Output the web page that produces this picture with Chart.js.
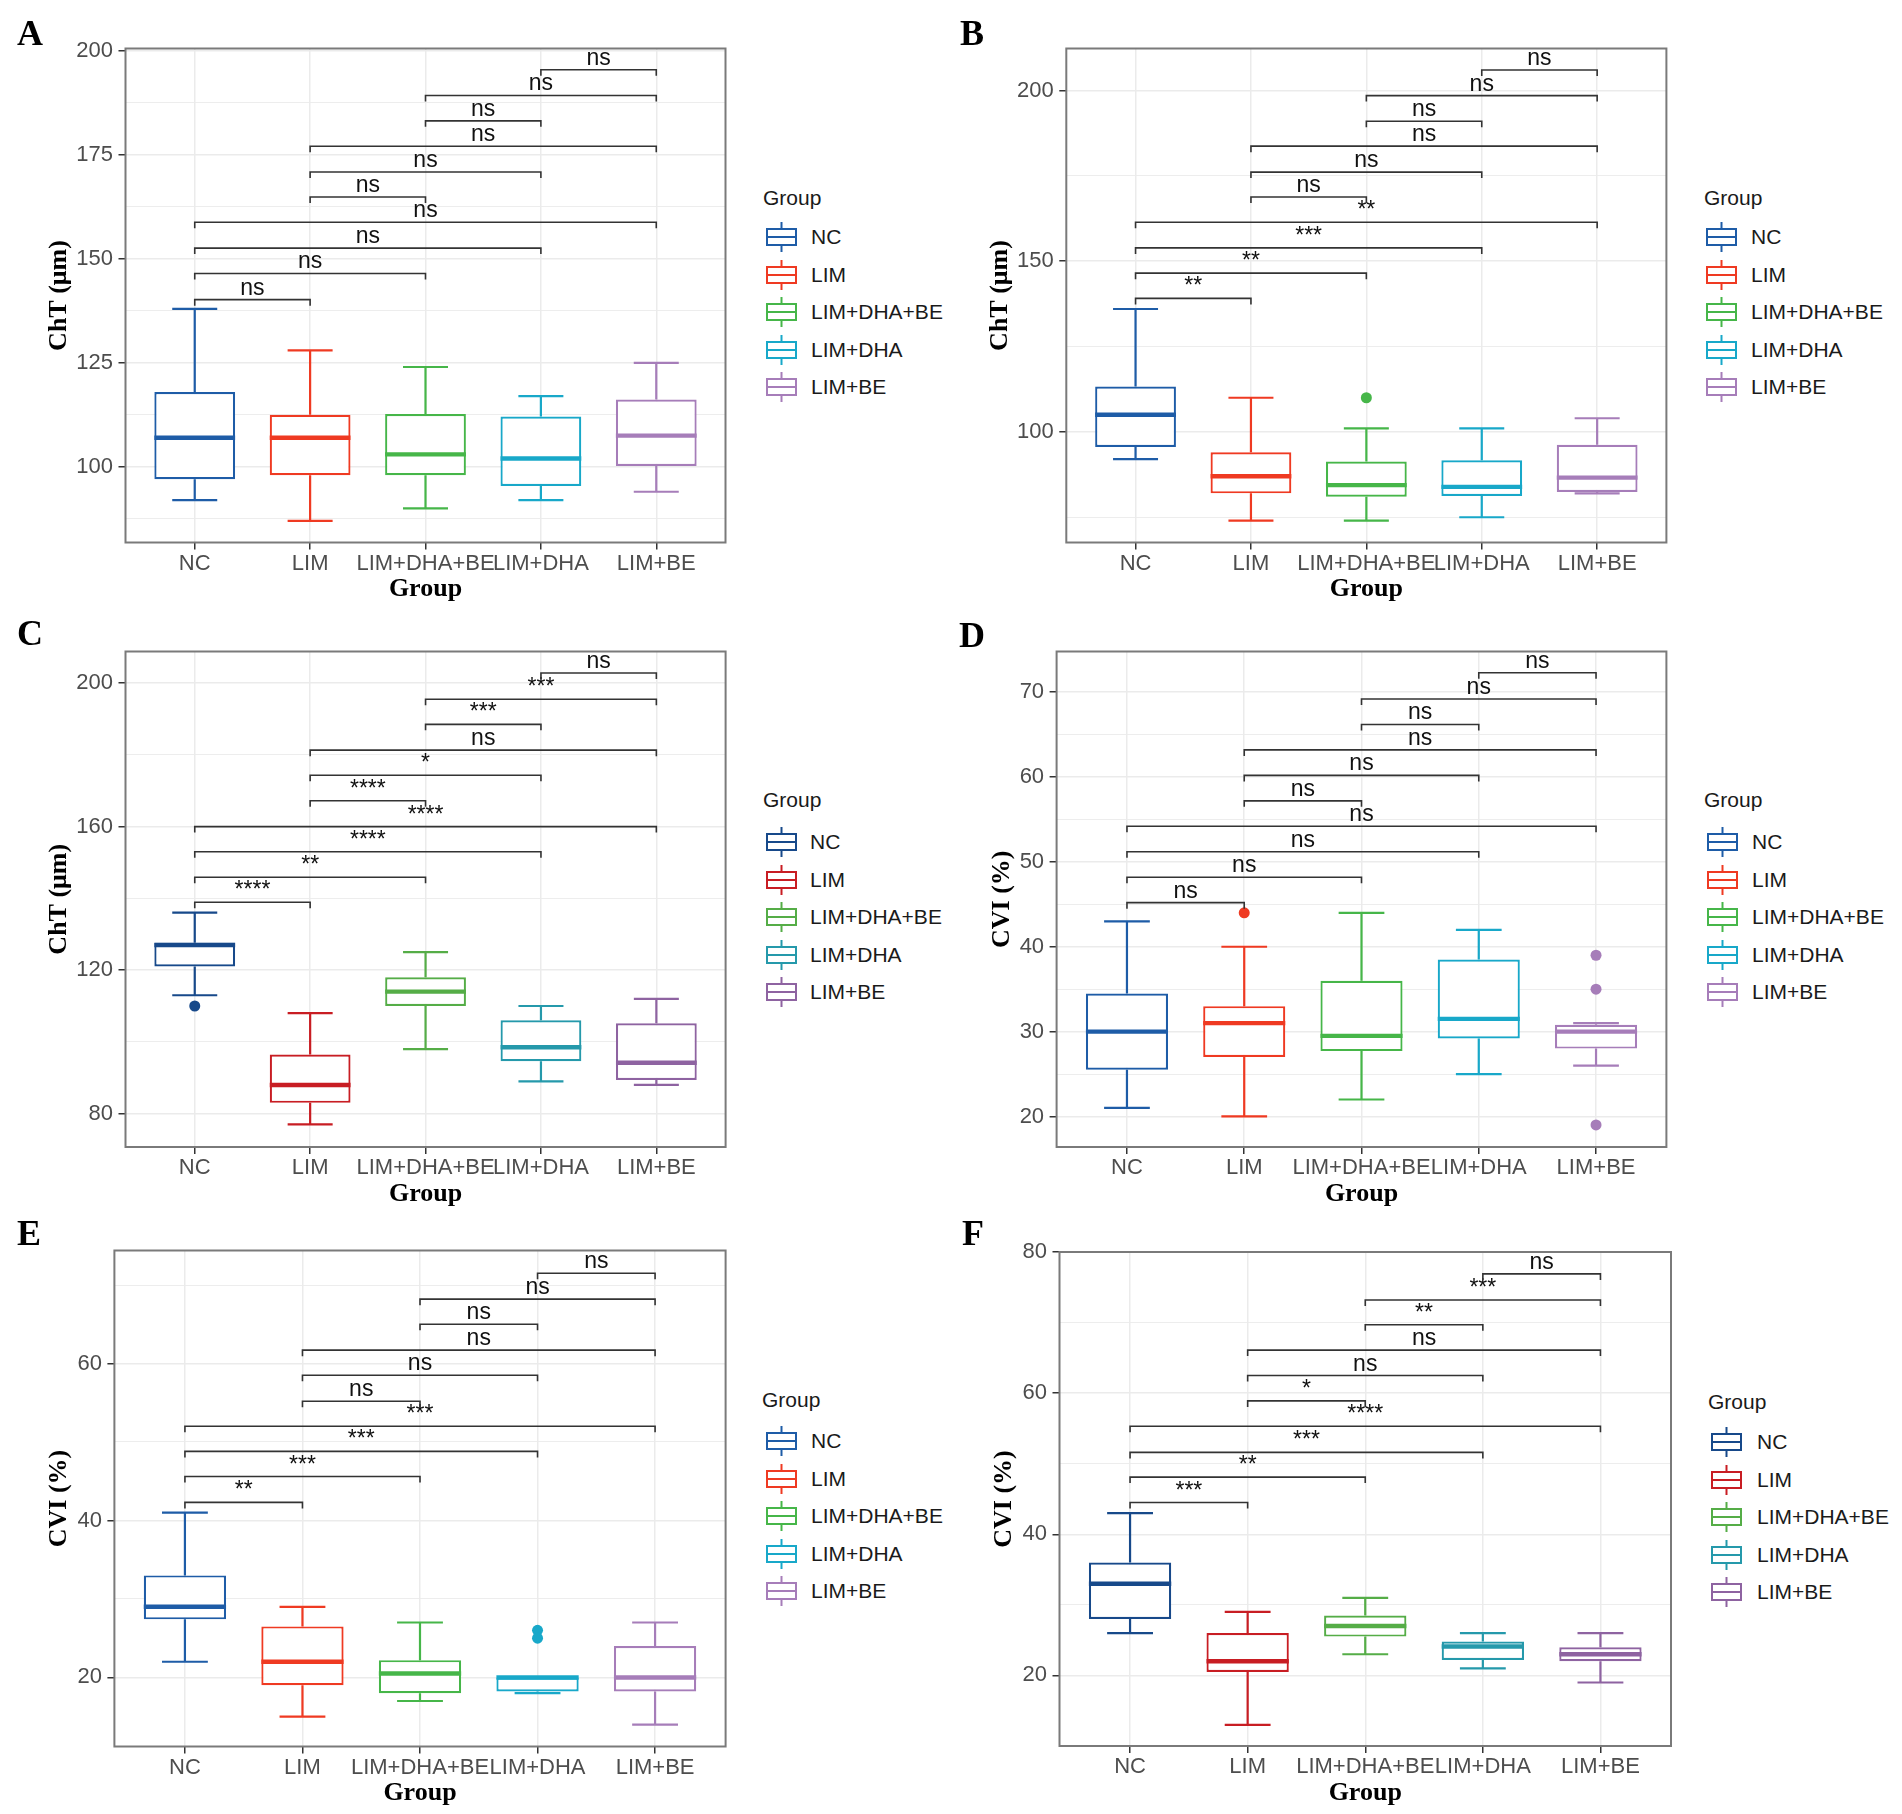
<!DOCTYPE html>
<html><head><meta charset="utf-8">
<script src="https://cdn.jsdelivr.net/npm/chart.js@4.4.1/dist/chart.umd.min.js"></script>
<style>
html,body{margin:0;padding:0;background:#fff;}
body{width:1902px;height:1814px;position:relative;overflow:hidden;font-family:'Liberation Sans',Arial,sans-serif;}
canvas{position:absolute;}
.plab{position:absolute;font-family:'Liberation Serif','Times New Roman',serif;font-weight:bold;font-size:36px;line-height:36px;color:#000;}
.legt{position:absolute;font-family:'Liberation Sans',Arial,sans-serif;font-size:21px;line-height:24px;color:#1a1a1a;white-space:nowrap;}
.legg{position:absolute;}
</style></head><body>
<script>
// ---------- data ----------
const groups = ['NC','LIM','LIM+DHA+BE','LIM+DHA','LIM+BE'];
const pairs = [[0,1],[0,2],[0,3],[0,4],[1,2],[1,3],[1,4],[2,3],[2,4],[3,4]];

// Panel A (ChT)
const A_min = [92, 87, 90, 92, 94];
const A_q1  = [97, 98, 98, 95.4, 100.2];
const A_med = [107, 107, 103, 102, 107.5];
const A_q3  = [118, 112.5, 112.7, 112.1, 116.2];
const A_max = [138, 128, 124, 117, 125];
const A_out = [[], [], [], [], []];
const A_sigY = [140.2, 146.5, 152.6, 158.8, 164.9, 170.9, 177.1, 183.2, 189.3, 195.5];
const A_sig  = ['ns','ns','ns','ns','ns','ns','ns','ns','ns','ns'];
const A_ticks = [100, 125, 150, 175, 200];
const A_minor = [87.5, 112.5, 137.5, 162.5, 187.5];
const A_range = [81.8, 200.6];

// Panel B (ChT)
const B_min = [92, 74, 74, 75, 82];
const B_q1  = [95.6, 82, 81, 81.2, 82.4];
const B_med = [105, 87, 84.4, 83.9, 86.6];
const B_q3  = [113.3, 94, 91.3, 91.7, 96.2];
const B_max = [136, 110, 101, 101, 104];
const B_out = [[], [], [110], [], []];
const B_sigY = [139.1, 146.5, 153.9, 161.4, 168.8, 176.1, 183.7, 191.0, 198.5, 206.0];
const B_sig  = ['**','**','***','**','ns','ns','ns','ns','ns','ns'];
const B_ticks = [100, 150, 200];
const B_minor = [75, 125, 175];
const B_range = [67.6, 212.3];

// Panel C (ChT)
const C_min = [113, 77, 98, 89, 88];
const C_q1  = [121, 83, 110, 94.6, 89.4];
const C_med = [127, 88, 114, 98.5, 94.2];
const C_q3  = [127.6, 96.5, 118, 106, 105.2];
const C_max = [136, 108, 125, 110, 112];
const C_out = [[110], [], [], [], []];
const C_sigY = [138.9, 145.9, 153.0, 160.0, 167.2, 174.3, 181.3, 188.5, 195.5, 202.8];
const C_sig  = ['****','**','****','****','****','*','ns','***','***','ns'];
const C_ticks = [80, 120, 160, 200];
const C_minor = [100, 140, 180];
const C_range = [70.7, 208.8];

// Panel D (CVI)
const D_min = [21, 20, 22, 25, 26];
const D_q1  = [25.5, 27, 27.7, 29.2, 28];
const D_med = [30, 31, 29.5, 31.5, 30];
const D_q3  = [34.5, 33, 36, 38.5, 30.8];
const D_max = [43, 40, 44, 42, 31];
const D_out = [[], [44], [], [], [39, 35, 19]];
const D_sigY = [45.2, 48.2, 51.2, 54.2, 57.2, 60.2, 63.2, 66.2, 69.2, 72.3];
const D_sig  = ['ns','ns','ns','ns','ns','ns','ns','ns','ns','ns'];
const D_ticks = [20, 30, 40, 50, 60, 70];
const D_minor = [25, 35, 45, 55, 65];
const D_range = [16.4, 74.8];

// Panel E (CVI)
const E_min = [22, 15, 17, 18, 14];
const E_q1  = [27.4, 19, 18, 18.2, 18.2];
const E_med = [29, 22, 20.5, 20, 20];
const E_q3  = [33, 26.5, 22.2, 20, 24];
const E_max = [41, 29, 27, 20, 27];
const E_out = [[], [], [], [26, 25], []];
const E_sigY = [42.3, 45.6, 48.8, 52.0, 55.2, 58.5, 61.7, 65.0, 68.2, 71.5];
const E_sig  = ['**','***','***','***','ns','ns','ns','ns','ns','ns'];
const E_ticks = [20, 40, 60];
const E_minor = [30, 50, 70];
const E_range = [11.2, 74.4];

// Panel F (CVI)
const F_min = [26, 13, 23, 21, 19];
const F_q1  = [28, 20.5, 25.5, 22.2, 22];
const F_med = [33, 22, 27, 24.1, 23];
const F_q3  = [36, 26, 28.5, 24.8, 24];
const F_max = [43, 29, 31, 26, 26];
const F_out = [[], [], [], [], []];
const F_sigY = [44.5, 48.1, 51.6, 55.3, 58.9, 62.5, 66.1, 69.7, 73.2, 76.9];
const F_sig  = ['***','**','***','****','*','ns','ns','**','***','ns'];
const F_ticks = [20, 40, 60, 80];
const F_minor = [30, 50, 70];
const F_range = [10.0, 80.0];

// ---------- styles ----------
const palBright = ['#1E5CA7', '#EF3A22', '#46B649', '#18A8C9', '#A67DB9'];
const palDark   = ['#17498A', '#C81D23', '#55AD47', '#2599AB', '#8E63A1'];

const panels = [
  {id:'A', min:A_min, q1:A_q1, med:A_med, q3:A_q3, max:A_max, out:A_out, sigY:A_sigY, sig:A_sig, ticks:A_ticks, minor:A_minor, range:A_range, yTitle:'ChT (μm)', colors:palBright},
  {id:'B', min:B_min, q1:B_q1, med:B_med, q3:B_q3, max:B_max, out:B_out, sigY:B_sigY, sig:B_sig, ticks:B_ticks, minor:B_minor, range:B_range, yTitle:'ChT (μm)', colors:palBright},
  {id:'C', min:C_min, q1:C_q1, med:C_med, q3:C_q3, max:C_max, out:C_out, sigY:C_sigY, sig:C_sig, ticks:C_ticks, minor:C_minor, range:C_range, yTitle:'ChT (μm)', colors:palDark},
  {id:'D', min:D_min, q1:D_q1, med:D_med, q3:D_q3, max:D_max, out:D_out, sigY:D_sigY, sig:D_sig, ticks:D_ticks, minor:D_minor, range:D_range, yTitle:'CVI (%)', colors:palBright},
  {id:'E', min:E_min, q1:E_q1, med:E_med, q3:E_q3, max:E_max, out:E_out, sigY:E_sigY, sig:E_sig, ticks:E_ticks, minor:E_minor, range:E_range, yTitle:'CVI (%)', colors:palBright},
  {id:'F', min:F_min, q1:F_q1, med:F_med, q3:F_q3, max:F_max, out:F_out, sigY:F_sigY, sig:F_sig, ticks:F_ticks, minor:F_minor, range:F_range, yTitle:'CVI (%)', colors:palDark}
];

// layout (pixels)
const geom = {
  A:{x0:0,   plotL:125.5,  plotR:725.5,  top:48.5,   bottom:542.5,  yTitleX:59,   lab:[17,45]},
  B:{x0:940, plotL:1066.3, plotR:1666.4, top:48.5,   bottom:542.5,  yTitleX:1000, lab:[960,45]},
  C:{x0:0,   plotL:125.5,  plotR:725.6,  top:651.5,  bottom:1147,   yTitleX:59,   lab:[17,645]},
  D:{x0:940, plotL:1056.6, plotR:1666.4, top:651.5,  bottom:1147,   yTitleX:1002, lab:[959,647]},
  E:{x0:0,   plotL:114.4,  plotR:725.6,  top:1250.5, bottom:1746.5, yTitleX:59.4, lab:[17,1245]},
  F:{x0:940, plotL:1059.5, plotR:1671,   top:1252,   bottom:1746,   yTitleX:1004.5, lab:[962,1245]}
};
const legendPos = {
  A:{tx:763, ty:198, gx:766, lx:811, ry:237},
  B:{tx:1704, ty:198, gx:1706, lx:1751, ry:237},
  C:{tx:763, ty:800, gx:766, lx:810, ry:842},
  D:{tx:1704, ty:800, gx:1707, lx:1752, ry:842},
  E:{tx:762, ty:1400, gx:766, lx:811, ry:1441},
  F:{tx:1708, ty:1402, gx:1711, lx:1757, ry:1442}
};
const ROWSTEP = 37.6;
const BOXW = 0.70, CAPW = 0.39, TIP = 6;
const SANS = "'Liberation Sans', Arial, sans-serif";
const SERIF = "'Liberation Serif', 'Times New Roman', serif";

function makePlugin(p){
  return {
    id: 'boxplot' + p.id,
    beforeDatasetsDraw(chart){
      const {ctx, scales:{x, y}} = chart;
      const capHalf = x.getPixelForValue(1 + CAPW/2) - x.getPixelForValue(1);
      ctx.save();
      ctx.lineWidth = 2.2;
      groups.forEach((g, i) => {
        const cx = x.getPixelForValue(i + 1);
        const yMax = y.getPixelForValue(p.max[i]), yMin = y.getPixelForValue(p.min[i]);
        ctx.strokeStyle = p.colors[i];
        ctx.beginPath();
        ctx.moveTo(cx, y.getPixelForValue(p.q3[i])); ctx.lineTo(cx, yMax);
        ctx.moveTo(cx, y.getPixelForValue(p.q1[i])); ctx.lineTo(cx, yMin);
        ctx.moveTo(cx - capHalf, yMax); ctx.lineTo(cx + capHalf, yMax);
        ctx.moveTo(cx - capHalf, yMin); ctx.lineTo(cx + capHalf, yMin);
        ctx.stroke();
      });
      ctx.restore();
    },
    afterDatasetsDraw(chart){
      const {ctx, scales:{y}} = chart;
      const meta = chart.getDatasetMeta(0);
      ctx.save();
      ctx.lineWidth = 4.4;
      meta.data.forEach((bar, i) => {
        const {x: bx, width} = bar.getProps(['x', 'width'], true);
        const ym = y.getPixelForValue(p.med[i]);
        ctx.strokeStyle = p.colors[i];
        ctx.beginPath(); ctx.moveTo(bx - width/2, ym); ctx.lineTo(bx + width/2, ym); ctx.stroke();
      });
      ctx.restore();
    },
    afterDraw(chart){
      const {ctx, chartArea:a, scales:{x, y}} = chart;
      ctx.save();
      ctx.strokeStyle = '#333'; ctx.lineWidth = 1.6;
      ctx.fillStyle = '#111'; ctx.font = '23px ' + SANS;
      ctx.textAlign = 'center'; ctx.textBaseline = 'alphabetic';
      pairs.forEach(([i, j], k) => {
        const x1 = x.getPixelForValue(i + 1), x2 = x.getPixelForValue(j + 1);
        const yp = y.getPixelForValue(p.sigY[k]);
        ctx.beginPath();
        ctx.moveTo(x1, yp + TIP); ctx.lineTo(x1, yp); ctx.lineTo(x2, yp); ctx.lineTo(x2, yp + TIP);
        ctx.stroke();
        ctx.fillText(p.sig[k], (x1 + x2) / 2, yp - 5);
      });
      ctx.strokeStyle = '#7a7a7a'; ctx.lineWidth = 2;
      ctx.strokeRect(a.left, a.top, a.right - a.left, a.bottom - a.top);
      ctx.restore();
    }
  };
}

function glyphSVG(color){
  return `<svg width="31" height="30" viewBox="0 0 31 30" xmlns="http://www.w3.org/2000/svg">
    <line x1="15.5" y1="0" x2="15.5" y2="7" stroke="${color}" stroke-width="2"/>
    <line x1="15.5" y1="23" x2="15.5" y2="30" stroke="${color}" stroke-width="2"/>
    <rect x="1" y="7" width="29" height="16" fill="#fff" stroke="${color}" stroke-width="2"/>
    <line x1="1" y1="15" x2="30" y2="15" stroke="${color}" stroke-width="2"/>
  </svg>`;
}

panels.forEach(p => {
  const g = geom[p.id];
  const y0 = Math.floor(g.top - 48);
  const W = Math.ceil(g.plotR - g.x0 + 12);
  const H = Math.ceil(g.bottom + 66 - y0);
  const cv = document.createElement('canvas');
  cv.width = W; cv.height = H;
  cv.style.left = g.x0 + 'px'; cv.style.top = y0 + 'px';
  cv.style.width = W + 'px'; cv.style.height = H + 'px';
  document.body.appendChild(cv);

  const yAxisW = g.plotL - g.x0;
  const xAxisH = (y0 + H) - g.bottom;
  const padTop = g.top - y0;
  const padRight = W - (g.plotR - g.x0);
  const xTitlePad = (y0 + H) - 13 - (g.bottom + 47);
  const yTitlePad = g.yTitleX - g.x0 - 13;
  const allY = [...p.ticks, ...p.minor].sort((a, b) => a - b);

  const outPts = [], outCols = [];
  p.out.forEach((arr, i) => arr.forEach(v => { outPts.push({x: i + 1, y: v}); outCols.push(p.colors[i]); }));

  new Chart(cv, {
    type: 'bar',
    data: {
      datasets: [
        {
          type: 'bar',
          data: groups.map((gname, i) => ({x: i + 1, y: [p.q1[i], p.q3[i]]})),
          backgroundColor: '#ffffff',
          borderColor: p.colors,
          borderWidth: 2.2,
          borderSkipped: false,
          barPercentage: BOXW,
          categoryPercentage: 1,
          grouped: false
        },
        {
          type: 'scatter',
          data: outPts,
          pointBackgroundColor: outCols,
          pointBorderWidth: 0,
          pointRadius: 5.5,
          pointHoverRadius: 5.5
        }
      ]
    },
    options: {
      responsive: false, animation: false, devicePixelRatio: 1,
      layout: {padding: {left: 0, top: padTop, right: padRight, bottom: 0}},
      plugins: {legend: {display: false}, tooltip: {enabled: false}},
      events: [],
      scales: {
        x: {
          type: 'linear', min: 0.4, max: 5.6, bounds: 'data', offset: false,
          afterBuildTicks: s => { s.ticks = groups.map((gname, i) => ({value: i + 1})); },
          afterFit: s => { s.height = xAxisH; },
          ticks: {
            callback: v => groups[Math.round(v) - 1] || '',
            autoSkip: false, maxRotation: 0, minRotation: 0,
            font: {family: SANS, size: 22}, color: '#4D4D4D', padding: 1
          },
          grid: {offset: false, color: '#EBEBEB', lineWidth: 1.5, tickLength: 7, tickColor: '#333', tickWidth: 1.5},
          border: {display: false},
          title: {display: true, text: 'Group', color: '#000',
                  font: {family: SERIF, size: 26, weight: 'bold', lineHeight: 1},
                  padding: {top: 0, bottom: xTitlePad}}
        },
        y: {
          type: 'linear', min: p.range[0], max: p.range[1], bounds: 'data', offset: false,
          afterBuildTicks: s => { s.ticks = allY.map(v => ({value: v})); },
          afterFit: s => { s.width = yAxisW; },
          ticks: {
            callback: v => p.ticks.includes(v) ? String(v) : '',
            autoSkip: false,
            font: {family: SANS, size: 22}, color: '#4D4D4D', padding: 5.5
          },
          grid: {
            offset: false,
            color: '#EBEBEB',
            lineWidth: c => (c.tick && p.ticks.includes(c.tick.value)) ? 1.5 : 0.9,
            tickLength: 7,
            tickColor: c => (c.tick && p.ticks.includes(c.tick.value)) ? '#333' : 'rgba(0,0,0,0)',
            tickWidth: 1.5
          },
          border: {display: false},
          title: {display: true, text: p.yTitle, color: '#000',
                  font: {family: SERIF, size: 26, weight: 'bold', lineHeight: 1},
                  padding: {top: yTitlePad, bottom: 0}}
        }
      }
    },
    plugins: [makePlugin(p)]
  });

  // panel letter
  const lab = document.createElement('div');
  lab.className = 'plab';
  lab.textContent = p.id;
  lab.style.left = g.lab[0] + 'px';
  lab.style.top = (g.lab[1] - 30.1) + 'px';
  document.body.appendChild(lab);

  // legend
  const L = legendPos[p.id];
  const t = document.createElement('div');
  t.className = 'legt'; t.textContent = 'Group';
  t.style.left = L.tx + 'px'; t.style.top = (L.ty - 12) + 'px';
  document.body.appendChild(t);
  groups.forEach((gname, i) => {
    const cy = L.ry + i * ROWSTEP;
    const gl = document.createElement('div');
    gl.className = 'legg'; gl.innerHTML = glyphSVG(p.colors[i]);
    gl.style.left = L.gx + 'px'; gl.style.top = (cy - 15) + 'px';
    document.body.appendChild(gl);
    const tx = document.createElement('div');
    tx.className = 'legt'; tx.textContent = gname;
    tx.style.left = L.lx + 'px'; tx.style.top = (cy - 12) + 'px';
    document.body.appendChild(tx);
  });
});
</script>
</body></html>
